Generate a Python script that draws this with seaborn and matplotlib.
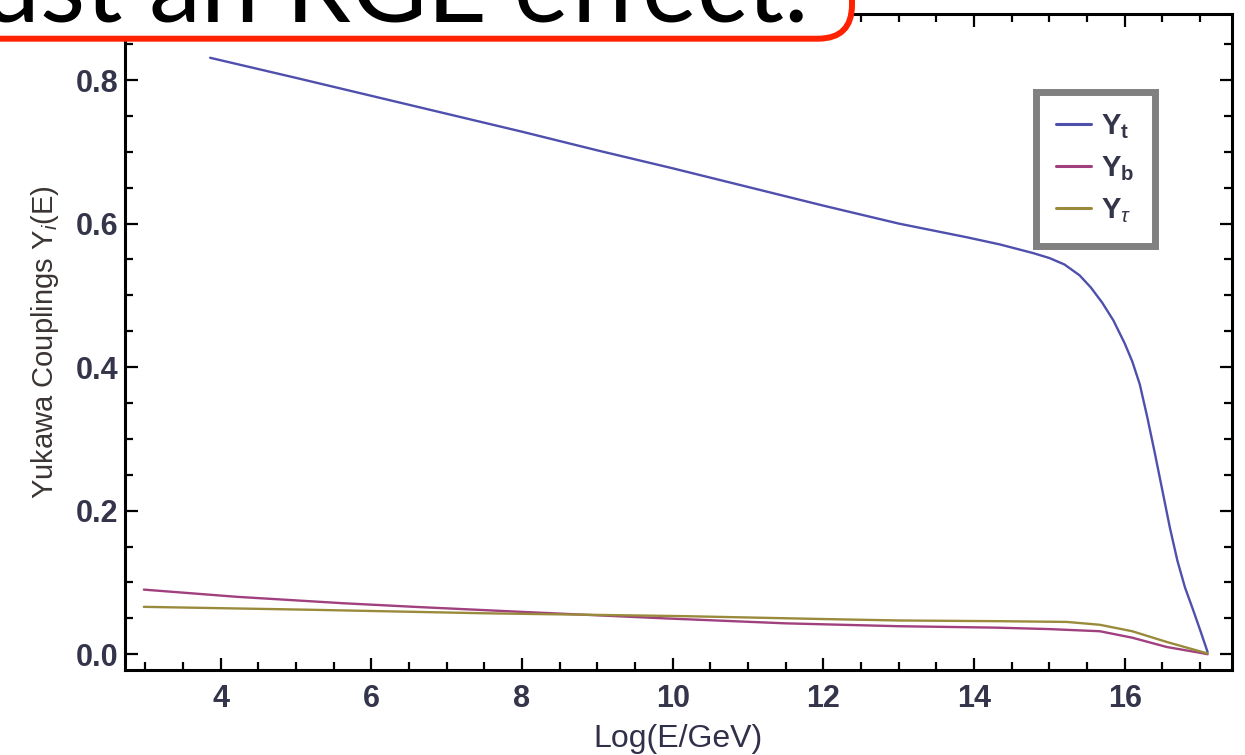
import numpy as np
import pandas as pd
import seaborn as sns
import matplotlib.pyplot as plt
from matplotlib.lines import Line2D
from matplotlib.patches import FancyBboxPatch
from matplotlib.transforms import IdentityTransform
from matplotlib.ticker import MultipleLocator

# running Yukawa couplings (x = Log(E/GeV))
x_top = [3.86, 5.0, 6.0, 7.0, 8.0, 9.0, 10.0, 11.0, 12.0, 13.0, 13.9, 14.34, 14.78,
         15.0, 15.2, 15.4, 15.55, 15.7, 15.85, 16.0, 16.1, 16.2, 16.3, 16.4, 16.5,
         16.6, 16.7, 16.8, 16.9, 17.0, 17.1]
y_top = [0.831, 0.803, 0.778, 0.753, 0.728, 0.702, 0.677, 0.651, 0.625, 0.600, 0.581,
         0.571, 0.559, 0.552, 0.543, 0.528, 0.511, 0.490, 0.465, 0.433, 0.408, 0.376,
         0.330, 0.280, 0.228, 0.176, 0.130, 0.093, 0.064, 0.034, 0.003]

x_bot = [2.98, 4.21, 5.63, 6.57, 7.99, 9.88, 11.5, 13.0, 14.3, 15.0, 15.67, 16.1,
         16.56, 17.0, 17.1]
y_bot = [0.090, 0.080, 0.071, 0.066, 0.059, 0.050, 0.043, 0.039, 0.037, 0.035, 0.032,
         0.023, 0.010, 0.002, 0.000]

x_tau = [2.98, 5.16, 7.52, 10.16, 12.0, 13.0, 14.34, 15.23, 15.67, 16.1, 16.56, 17.1]
y_tau = [0.066, 0.062, 0.057, 0.053, 0.049, 0.047, 0.046, 0.045, 0.041, 0.032, 0.017,
         0.001]

labels = ['Y$_{\\mathregular{t}}$', 'Y$_{\\mathregular{b}}$', 'Y$_\\tau$']
colors = ['#4f4fae', '#a0407e', '#9a8a3c']

df = pd.concat([
    pd.DataFrame({'logE': x_top, 'Y': y_top, 'coupling': 'top'}),
    pd.DataFrame({'logE': x_bot, 'Y': y_bot, 'coupling': 'bottom'}),
    pd.DataFrame({'logE': x_tau, 'Y': y_tau, 'coupling': 'tau'}),
], ignore_index=True)

sns.set_theme(style='ticks')
plt.rcParams['font.family'] = ['Liberation Sans', 'DejaVu Sans']
plt.rcParams['mathtext.fontset'] = 'custom'
plt.rcParams['mathtext.rm'] = 'Liberation Sans'
plt.rcParams['mathtext.it'] = 'Liberation Sans:italic'
plt.rcParams['mathtext.bf'] = 'Liberation Sans:bold'

fig = plt.figure(figsize=(12.45, 7.55), dpi=100)
ax = fig.add_axes([125 / 1245, 1 - 670 / 755, (1231.7 - 125) / 1245, (670 - 14) / 755])

sns.lineplot(data=df, x='logE', y='Y', hue='coupling', palette=colors,
             estimator=None, sort=False, lw=1.7, legend=False, ax=ax)

ax.set_xlim(2.73, 17.42)
ax.set_ylim(-0.022, 0.892)
ax.xaxis.set_major_locator(MultipleLocator(2))
ax.xaxis.set_minor_locator(MultipleLocator(0.5))
ax.yaxis.set_major_locator(MultipleLocator(0.2))
ax.yaxis.set_minor_locator(MultipleLocator(0.05))
ax.yaxis.set_major_formatter(plt.FuncFormatter(lambda v, p: f'{v:.1f}'))
ax.xaxis.set_major_formatter(plt.FuncFormatter(lambda v, p: f'{v:.0f}'))

for s in ax.spines.values():
    s.set_visible(True)
    s.set_linewidth(2.2)
    s.set_color('black')
ax.tick_params(which='both', direction='in', top=True, right=True, color='black',
               width=1.6, labelcolor='#34344a', labelsize=22)
ax.tick_params(which='major', length=9)
ax.tick_params(which='minor', length=6)
ax.tick_params(axis='x', pad=10)
ax.tick_params(axis='y', pad=5)
for t in ax.get_xticklabels() + ax.get_yticklabels():
    t.set_fontweight('bold')

ax.set_xlabel('Log(E/GeV)', fontsize=23, color='#30304a', labelpad=7)
ax.set_ylabel('Yukawa Couplings Y$_i$(E)', fontsize=21, color='#3a3432', labelpad=10)

handles = [Line2D([], [], color=c, lw=2.2) for c in colors]
leg = ax.legend(handles, labels, loc='upper left', bbox_to_anchor=(0.823, 0.881),
                borderaxespad=0, handlelength=1.2, handletextpad=0.35,
                labelspacing=0.45, borderpad=0.7, fancybox=False, framealpha=1,
                edgecolor='#808080', prop={'weight': 'bold', 'size': 21})
leg.get_frame().set_linewidth(5)
for t in leg.get_texts():
    t.set_color('#34344a')

# slide title box overlapping the top of the chart
box = FancyBboxPatch((-300, 755 - 38.7), 1152, 200,
                     boxstyle='round,pad=0,rounding_size=34',
                     transform=IdentityTransform(), fc='white', ec='#ff2200',
                     lw=4.3, zorder=5)
fig.add_artist(box)
fig.text(808, 755 - 21, 'ust an RGE effect.', transform=IdentityTransform(),
         ha='right', va='baseline', fontsize=75, family=['Lato', 'DejaVu Sans'],
         color='black', zorder=6)

fig.savefig('out.png', dpi=100)
